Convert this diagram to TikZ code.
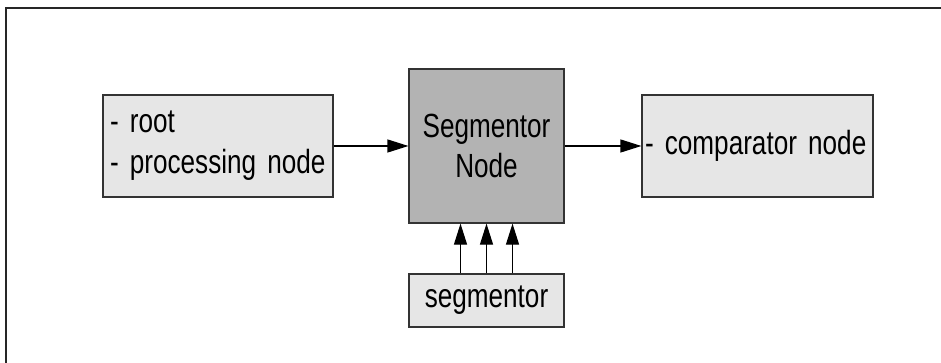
\documentclass[tikz,border=0pt]{standalone}
\usepackage{fontspec}
\setmainfont{Liberation Sans}
\newfontfamily\diafont[FakeStretch=0.78,WordSpace=0.78]{Liberation Sans}
\usepackage{tikz}
\usetikzlibrary{arrows.meta,positioning}
\definecolor{boxgray}{RGB}{230,230,230}
\definecolor{seggray}{RGB}{179,179,179}
\definecolor{edgegray}{RGB}{51,51,51}
\tikzset{
  proc/.style={draw=edgegray,line width=1.2pt,fill=boxgray,
    align=left,inner sep=0pt,font=\diafont\fontsize{33.5}{41}\selectfont},
  segnode/.style={draw=edgegray,line width=1.2pt,fill=seggray,
    align=center,inner sep=0pt,font=\diafont\fontsize{33.5}{40}\selectfont},
  flow/.style={-{Triangle[length=21pt,width=13pt]},line width=1.2pt,draw=black},
  frameline/.style={draw=black!85,line width=2pt}
}

\begin{document}
\begin{tikzpicture}[x=1pt,y=-1pt]
  \useasboundingbox (0,0) rectangle (941,363);
  \draw[frameline] (941,8) -- (6,8) -- (6,363);

  \node[segnode,minimum width=155pt,minimum height=154pt] (segn) at (486.5,146) {
    Segmentor\\Node};
  \node[proc,minimum width=230pt,minimum height=102pt,text width=216pt]
    (src) at (218,146) {
    - root\\- processing node};
  \node[proc,minimum width=231pt,minimum height=102pt,text width=225pt]
    (cmp) at (757.5,146) {
    - comparator node};
  \node[proc,align=center,minimum width=155pt,minimum height=53pt]
    (seg) at (486.5,300.5) {segmentor};

  \draw[flow] (src)--(segn);
  \draw[flow] (segn)--(cmp);
  \foreach \dx in {-26,0,26}
    \draw[flow] ([xshift=\dx pt]seg.north)--([xshift=\dx pt]segn.south);
\end{tikzpicture}
\end{document}
